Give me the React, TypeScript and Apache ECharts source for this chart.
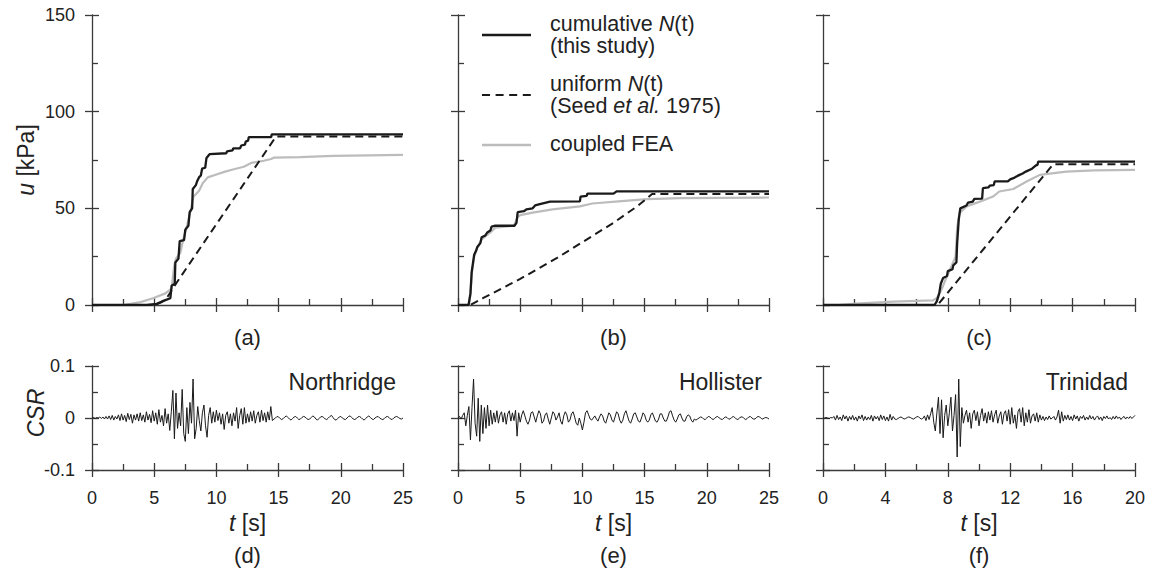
import React, { useEffect, useRef } from 'react';
import * as echarts from 'echarts';

const FONT = '"Liberation Sans", Arial, Helvetica, sans-serif';
const AX = '#3a3a3a';
const TXT = '#222222';

// ---------- top panels: u [kPa] vs t [s] ----------
const cumulativeA: [number, number][] = [
  [0, 0], [4.4, 0], [5.2, 0.6], [5.9, 2.5], [6.3, 3.5], [6.4, 10], [6.65, 11], [6.7, 22], [6.95, 24],
  [7.05, 33], [7.4, 33.5], [7.5, 39], [7.75, 41], [7.85, 48], [8.05, 50], [8.1, 60], [8.35, 62],
  [8.45, 64], [8.6, 66], [8.75, 67], [8.85, 70.5], [9.1, 71], [9.2, 76], [9.45, 78], [10.8, 78.5],
  [10.85, 79.5], [11.3, 80], [11.35, 81], [11.9, 81], [12.0, 82.5], [12.3, 83], [12.35, 84.5],
  [12.55, 85], [12.6, 86.8], [14.4, 86.8], [14.45, 88.3], [25, 88.3],
];
const uniformA: [number, number][] = [
  [0, 0], [5.0, 0], [5.6, 1.5], [6.1, 4.5], [6.5, 8.5], [6.8, 11.5], [14.8, 87.2], [25, 87.2],
];
const feaA: [number, number][] = [
  [0, 0], [2.5, 0], [3.9, 1.5], [4.9, 3.5], [5.9, 6], [6.4, 8.5], [6.6, 20], [6.75, 24], [7.1, 27],
  [7.3, 33], [7.6, 40], [7.9, 48], [8.15, 56], [8.6, 59], [8.9, 63], [9.3, 66], [10.0, 67.5],
  [10.7, 69], [11.4, 70.2], [12.2, 71.5], [12.8, 73.5], [13.8, 74.6], [14.4, 75.5], [14.6, 76.2],
  [16.7, 76.5], [19.4, 77.1], [25, 77.7],
];

const cumulativeB: [number, number][] = [
  [0, 0], [0.85, 0], [1.0, 6], [1.1, 17], [1.3, 26], [1.45, 28], [1.55, 30], [1.8, 32], [1.9, 35],
  [2.2, 36], [2.35, 37.5], [2.6, 38.5], [2.7, 40.5], [3.0, 41], [4.55, 41], [4.7, 42.5], [4.8, 48],
  [5.3, 48.5], [5.5, 49.5], [6.0, 50], [6.2, 51.5], [6.5, 52], [7.4, 53.5], [9.8, 53.6], [9.85, 56],
  [10.35, 56.5], [10.4, 57.6], [12.5, 57.6], [12.75, 58.8], [25, 58.8],
];
const uniformB: [number, number][] = [
  [0, 0], [1.0, 0], [2, 3.5], [5, 13.5], [8, 24.5], [10, 32.5], [12.5, 42.5], [14.5, 51.5],
  [15.6, 57.4], [25, 57.4],
];
const feaB: [number, number][] = [
  [0, 0], [0.85, 0], [1.0, 5], [1.1, 16], [1.3, 25], [1.55, 29.5], [1.9, 34], [2.6, 37.5], [3.0, 40],
  [4.5, 41], [4.8, 45.5], [5.0, 46.5], [6.0, 47.8], [7.6, 49.5], [9.8, 51], [10.8, 52.5],
  [12.9, 53.6], [15.2, 54.8], [17.9, 55.3], [25, 55.6],
];

const cumulativeC: [number, number][] = [
  [0, 0], [7.15, 0], [7.3, 2], [7.45, 6], [7.55, 11], [7.7, 14], [7.95, 15], [8.0, 17.5], [8.3, 18.5],
  [8.35, 20.5], [8.55, 22], [8.6, 32], [8.7, 44], [8.8, 50], [9.2, 51.5], [9.3, 53], [9.6, 53.5],
  [9.7, 54.9], [10.2, 55], [10.25, 60.4], [10.6, 60.8], [10.7, 61.8], [10.95, 62], [11.0, 63.9],
  [11.85, 63.9], [12.0, 65], [12.2, 65.6], [12.4, 66.5], [12.6, 67.3], [12.8, 68], [13.0, 69],
  [13.4, 70.5], [13.65, 72.2], [13.75, 72.5], [13.8, 74.2], [20, 74.2],
];
const uniformC: [number, number][] = [
  [0, 0], [7.35, 0], [14.75, 72.8], [20, 72.8],
];
const feaC: [number, number][] = [
  [0, 0], [1.0, 0], [2.1, 0.7], [4.5, 1.7], [7.05, 2.4], [7.3, 3.6], [7.6, 8], [7.9, 14], [8.5, 25],
  [8.6, 40], [8.75, 47.5], [9.2, 51], [10.1, 53.6], [10.9, 56.1], [11.3, 58.7], [12.2, 60],
  [13.05, 63.9], [13.9, 67.3], [14.8, 68.2], [15.6, 69], [17.4, 69.6], [20, 69.9],
];

// ---------- bottom panels: CSR (x 0.001) sampled at fixed steps ----------
const dtNorthridge = 0.125;
const csrNorthridge = [
  0, 1, -1, 1, 0, 2, -1, 2, -2,
  3, -2, 4, -3, 5, -4, 3, -2,
  6, -5, 8, -4, 5, -7, 9, -3,
  7, -10, 6, -4, 8, -6, 10, -5,
  6, -8, 12, -4, 7, -9, 14, -6,
  10, -12, 16, -8, 5, -15, 18, -10,
  8, -24, 12,
  53, -40, 48, -20, 10, -15, 55, -30, -45, 20, -30, 30, -10, 75, -40, -20, 22, -5, -25, 10, 25, -15,
  -37, 5, 20, -10, 12, -8, 15,
  -5, 10, -12, 8, -22, 5, 12, -10, 8, -15, 10, -6, 20, -20, 5, 18, -12, 20, -10, 8,
  -8, 12, -6, 14, -10, 5, 12, -8, 15, -5, 10, -8, 12, -4, 22, -5,
  -2, 0, 3, 2, -1, -3, -1, 2, 4, 1, -2, -4,
  -1, 2, 3, 0, -3, -2, 1, 3, 2, -1, -3, -2,
  1, 4, 2, -2, -4, -1, 2, 3, 1, -2, -3, 0,
  3, 5, 1, -3, -4, -1, 2, 3, 0, -2, -3, 0,
  3, 4, 1, -2, -3, -1, 2, 3, 1, -2, -4, -1,
  2, 4, 1, -2, -3, 0, 2, 3, 0, -2, -3, -1,
  2, 3, 1, -2, -3, 0, 2, 3, 1, -1, -2, 0,
];
const dtHollister = 0.125;
const csrHollister = [
  0, 3, -2, 5, 10,
  -15, 5, 22, -42, 20, 75, -10, -35, 38, -45, 25, -30, 20, -20, 25, -15,
  15, -12, 10, -8, 14, -10, 6, 12, -8, 10, -12, 8, 14, -6, 10, -5,
  15, -35, 10, -8,
  6, 14, 4, -6, -12, -4, 10, 12, 2, -8, 4, 14, 8, -10, -6, 6, 10, -2, -12, 0,
  12, 8, -4, 2, 10, -6, -12, 4, 12, 6, -8, -4, 8, 12, 2, -10, -14, 0, -10, -23,
  -8, 10, 14, 6, -2, -4, 0, 4, -2, -6, 2, 8, 4, -6, -10, 0, 10, 6, -4, -8,
  2, 12, 8, -4, -10, -4, 8, 14, 4, -6, -10, -2, 8, 10, 2, -6, -8, 0, 10, 6,
  -4, -8, -4, 6, 10, 2, -6, -8, -2, 8, 8, 0, -6, -6, 2, 12, 14, 4, -4, -8,
  -2, 6, 8, 0, -6, -6, 2, 6, 4, -4, -8, -2,
  -4, -2, 0, 2, 1, -2, -3, 0, 3, 2, -1, -3, -1, 2, 3, 0, -2, -3, 0, 2,
  1, -2, -2, 1, 3, 1, -2, -3, 0, 2, 2, -1, -3, -1, 2, 3, 0, -2, -2, 1,
  3, 2, -1, -2, 0, 1, 0, -2,
];
const dtTrinidad = 0.1;
const csrTrinidad = [
  0, 0, 1, 0, -1, 1, 0,
  3, -4, 5, -3, 2, -5, 6, -2, 4, -6, 3, -3, 5, -4, 2, -6, 4, -2, 6, -5,
  3, -4, 2, -3, 5, -6, 4, -2, 3, -5, 6, -3, 4, -5, 2, -6, 7, -4, 3,
  -2, -3, -1, 1, 2, 0, -2, -1, 1, 2, 1, -1, -2, 0, 2, 3, 0, -2, -1,
  4, -5, 6, -3, 8,
  20, -8, -25, 10, 40, -30, 35, -38, 5, 25, -15, 10, 40, -25, 5, 45, -75, 75, -55, 20, -10, 5, 15,
  -8, 10, -20, 8, 15, -5, 12, -15,
  5, 18, -6, 10, -10, 12, -4, 14, -8, 6, 15, -10, 4, 12, -12, 8, 14, -6, 16, -12,
  20, -10, 6, -20, 12, 18, -8, 20, -15, 10, -8, 16, -10, 4, 8, -6, 10, -8, 6, -4,
  3, -5, 2, -3, 4, -2, 0, 3, -4, 2, 15, -10, 12, -6, 5, -3, 6, -4, 3, -5,
  6, -2, 4, -6, 3, -1, 5, -4, 2, -3, 5, -2, 3, -4, 1, 4, -3, 2, -5, 3,
  -1, 4, -2, 1, -3, 3, -2, 4, -1, 2, -3, 1, 3, -2, 2, -1, 3, -1, 2, 5,
];

const xMaxes = [25, 25, 20];
const xIntervals = [5, 5, 4];
const panelLabels = ['(a)', '(b)', '(c)', '(d)', '(e)', '(f)'];
const recordNames = ['Northridge', 'Hollister', 'Trinidad'];

const cols = [
  { left: 92, width: 311 },
  { left: 458, width: 311 },
  { left: 823, width: 312 },
];
const TOP = { top: 15, height: 290 };
const BOT = { top: 366, height: 104 };

function axisPair(gridIndex: number, min: number, max: number, interval: number, showLabel: boolean, margin: number, formatter?: (v: number) => string) {
  const main: any = {
    type: 'value', gridIndex, min, max, interval,
    axisLine: { show: true, onZero: false, lineStyle: { color: AX, width: 1.3 } },
    axisTick: { show: true, inside: false, length: 7, lineStyle: { color: AX, width: 1.3 } },
    minorTick: { show: false },
    splitLine: { show: false },
    axisLabel: {
      show: showLabel, margin, fontSize: 18, color: TXT, fontFamily: FONT,
      formatter: formatter || ((v: number) => String(v)),
    },
  };
  const inner: any = {
    type: 'value', gridIndex, min, max, interval,
    axisLine: { show: false, onZero: false },
    axisTick: { show: true, inside: true, length: 7, lineStyle: { color: AX, width: 1.3 } },
    minorTick: { show: true, splitNumber: 2, length: 6, lineStyle: { color: AX, width: 1.3 } },
    splitLine: { show: false },
    minorSplitLine: { show: false },
    axisLabel: { show: false },
  };
  return [main, inner];
}

function toSeries(values: number[], dt: number): [number, number][] {
  return values.map((v, i) => [i * dt, v]);
}

export default function App() {
  const ref = useRef<HTMLDivElement>(null);
  useEffect(() => {
    if (!ref.current) return;
    const chart = echarts.init(ref.current, undefined, { renderer: 'svg' });
    const grids: any[] = [];
    const xAxes: any[] = [];
    const yAxes: any[] = [];
    for (let r = 0; r < 2; r++) {
      for (let c = 0; c < 3; c++) {
        const g = r * 3 + c;
        const rowGeo = r === 0 ? TOP : BOT;
        grids.push({ left: cols[c].left, width: cols[c].width, top: rowGeo.top, height: rowGeo.height });
        const [xm, xi] = axisPair(g, 0, xMaxes[c], xIntervals[c], r === 1, 19);
        xm.position = 'bottom';
        xi.position = 'bottom';
        xAxes.push(xm, xi);
        const [ym, yi] = r === 0
          ? axisPair(g, 0, 150, 50, c === 0, 17)
          : axisPair(g, -100, 100, 100, c === 0, 17, (v: number) => String(Math.round(v) / 1000));
        ym.position = 'left';
        yi.position = 'left';
        yAxes.push(ym, yi);
      }
    }
    const topData = [
      [cumulativeA, uniformA, feaA],
      [cumulativeB, uniformB, feaB],
      [cumulativeC, uniformC, feaC],
    ];
    const series: any[] = [];
    topData.forEach(([cum, uni, fea], c) => {
      const ax = { xAxisIndex: c * 2, yAxisIndex: c * 2 };
      series.push({ type: 'line', name: 'coupled FEA', ...ax, data: fea, showSymbol: false, symbol: 'none', lineStyle: { color: '#bcbcbc', width: 2.2 } });
      series.push({ type: 'line', name: 'uniform N(t)', ...ax, data: uni, showSymbol: false, symbol: 'none', lineStyle: { color: '#1a1a1a', width: 2, type: [8, 5] } });
      series.push({ type: 'line', name: 'cumulative N(t)', ...ax, data: cum, showSymbol: false, symbol: 'none', lineStyle: { color: '#1a1a1a', width: 2.3 } });
    });
    const csr = [
      toSeries(csrNorthridge, dtNorthridge),
      toSeries(csrHollister, dtHollister),
      toSeries(csrTrinidad, dtTrinidad),
    ];
    csr.forEach((d, c) => {
      const g = 3 + c;
      series.push({ type: 'line', name: recordNames[c], xAxisIndex: g * 2, yAxisIndex: g * 2, data: d, showSymbol: false, symbol: 'none', lineStyle: { color: '#1a1a1a', width: 1 } });
    });

    const italic = (size: number) => ({ fontStyle: 'italic', fontSize: size, fontFamily: FONT, fill: TXT });
    const normal = (size: number) => ({ fontSize: size, fontFamily: FONT, fill: TXT });
    const graphic: any[] = [];
    // axis names
    graphic.push({
      type: 'text', x: 26, y: 160, rotation: Math.PI / 2,
      style: { text: '{i|u}{n| [kPa]}', align: 'center', verticalAlign: 'middle', rich: { i: italic(23), n: normal(23) }, ...normal(23) },
    });
    graphic.push({
      type: 'text', x: 36, y: 413, rotation: Math.PI / 2,
      style: { text: 'CSR', align: 'center', verticalAlign: 'middle', ...italic(23) },
    });
    cols.forEach((col, c) => {
      const cx = col.left + col.width / 2;
      graphic.push({ type: 'text', x: cx, y: 337, style: { text: panelLabels[c], align: 'center', verticalAlign: 'middle', ...normal(22) } });
      graphic.push({ type: 'text', x: cx, y: 555, style: { text: panelLabels[3 + c], align: 'center', verticalAlign: 'middle', ...normal(22) } });
      graphic.push({
        type: 'text', x: cx, y: 523,
        style: { text: '{i|t}{n| [s]}', align: 'center', verticalAlign: 'middle', rich: { i: italic(23), n: normal(23) }, ...normal(23) },
      });
      graphic.push({ type: 'text', x: col.left + col.width - 7, y: 382, style: { text: recordNames[c], align: 'right', verticalAlign: 'middle', ...normal(23) } });
    });
    // legend
    const lx1 = 482, lx2 = 531, tx = 550;
    graphic.push({ type: 'line', shape: { x1: lx1, y1: 35, x2: lx2, y2: 35 }, style: { stroke: '#1a1a1a', lineWidth: 2.3 } });
    graphic.push({ type: 'line', shape: { x1: lx1, y1: 95, x2: lx2, y2: 95 }, style: { stroke: '#1a1a1a', lineWidth: 2, lineDash: [8, 5.6] } });
    graphic.push({ type: 'line', shape: { x1: lx1, y1: 145, x2: lx2, y2: 145 }, style: { stroke: '#bcbcbc', lineWidth: 2.3 } });
    const rich = { i: italic(21.5), n: normal(21.5) };
    graphic.push({ type: 'text', x: tx, y: 24, style: { text: '{n|cumulative }{i|N}{n|(t)}', align: 'left', verticalAlign: 'middle', rich, ...normal(21.5) } });
    graphic.push({ type: 'text', x: tx, y: 46, style: { text: '(this study)', align: 'left', verticalAlign: 'middle', ...normal(21.5) } });
    graphic.push({ type: 'text', x: tx, y: 84, style: { text: '{n|uniform }{i|N}{n|(t)}', align: 'left', verticalAlign: 'middle', rich, ...normal(21.5) } });
    graphic.push({ type: 'text', x: tx, y: 106, style: { text: '{n|(Seed }{i|et al.}{n| 1975)}', align: 'left', verticalAlign: 'middle', rich, ...normal(21.5) } });
    graphic.push({ type: 'text', x: tx, y: 144, style: { text: 'coupled FEA', align: 'left', verticalAlign: 'middle', ...normal(21.5) } });

    chart.setOption({
      animation: false,
      backgroundColor: '#ffffff',
      grid: grids,
      xAxis: xAxes,
      yAxis: yAxes,
      series,
      graphic,
    });
    return () => chart.dispose();
  }, []);
  return <div ref={ref} style={{ position: 'absolute', left: 0, top: 0, width: 1150, height: 572 }} />;
}
